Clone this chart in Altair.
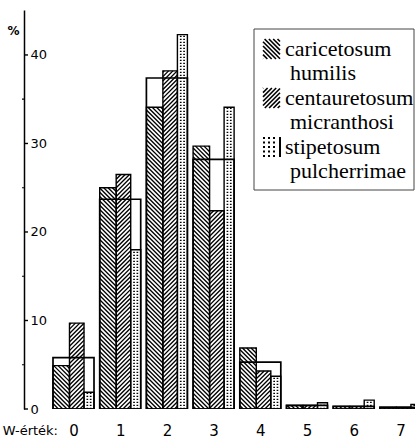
import math
import altair as alt
import pandas as pd

# ---------------- data ----------------
w_values = [0, 1, 2, 3, 4, 5, 6, 7]
caricetosum = [4.9, 25.0, 34.1, 29.7, 6.9, 0.4, 0.3, 0.2]
centauretosum = [9.7, 26.5, 38.2, 22.4, 4.3, 0.4, 0.3, 0.2]
stipetosum = [1.9, 18.0, 42.3, 34.1, 3.7, 0.7, 1.0, 0.5]
osszes = [5.8, 23.7, 37.4, 28.2, 5.3, 0.4, 0.3, 0.2]
legend_lines = [["caricetosum", "humilis"],
                ["centauretosum", "micranthosi"],
                ["stipetosum", "pulcherrimae"]]
y_ticks = [0, 10, 20, 30, 40]
y_minor = [5, 15, 25, 35]
x_title = "W-érték:"
y_title = "%"

# ---------------- layout / style constants ----------------
LEFT, TOP = 24, 10
W, H = 391, 399
PX_PER_W = 46.7
X_MIN = -1.06
X_MAX = X_MIN + W / PX_PER_W
Y_MAX = 45.08
SY = H / Y_MAX
SLOTS = [(-0.439, -0.086), (-0.086, 0.225), (0.225, 0.439)]
GROUP = (-0.439, 0.439)
PERIOD = 4.3
NUM_FONT = "DejaVu Sans"
SERIF = "Liberation Serif"


def px2x(px):
    return X_MIN + (px - LEFT) / PX_PER_W


def px2y(py):
    return (TOP + H - py) / SY


def hatch(x0, x1, y0, y1, kind):
    X0, X1 = (x0 - X_MIN) * PX_PER_W, (x1 - X_MIN) * PX_PER_W
    Y0, Y1 = y0 * SY, y1 * SY
    out = []
    if kind == "back":  # "\"  : X + Y = c
        for k in range(math.ceil((X0 + Y0) / PERIOD), math.floor((X1 + Y1) / PERIOD) + 1):
            c = k * PERIOD
            xa, xb = max(X0, c - Y1), min(X1, c - Y0)
            if xb - xa > 0.05:
                out.append((xa, c - xa, xb, c - xb))
    else:  # "/" : Y - X = c
        for k in range(math.ceil((Y0 - X1) / PERIOD), math.floor((Y1 - X0) / PERIOD) + 1):
            c = k * PERIOD
            xa, xb = max(X0, Y0 - c), min(X1, Y1 - c)
            if xb - xa > 0.05:
                out.append((xa, xa + c, xb, xb + c))
    return [dict(x=X_MIN + a / PX_PER_W, y=b / SY, x2=X_MIN + c2 / PX_PER_W, y2=d / SY)
            for a, b, c2, d in out]


# ---------------- tables built from the arrays ----------------
series = [caricetosum, centauretosum, stipetosum]
bar_rows, hatch_rows, dot_rows, box_rows = [], [], [], []
for i, w in enumerate(w_values):
    for s, vals in enumerate(series):
        x0, x1 = w + SLOTS[s][0], w + SLOTS[s][1]
        bar_rows.append(dict(x=x0, x2=x1, y=0, y2=vals[i], s=s))
        if s == 0:
            hatch_rows += hatch(x0, x1, 0, vals[i], "back")
        elif s == 1:
            hatch_rows += hatch(x0, x1, 0, vals[i], "fwd")
        else:
            for f in (1 / 3, 2 / 3):
                xx = x0 + (x1 - x0) * f
                dot_rows.append(dict(x=xx, y=0, y2=vals[i]))
    box_rows.append(dict(x=w + GROUP[0], x2=w + GROUP[1], y=0, y2=osszes[i]))

bars_df = pd.DataFrame(bar_rows)
hatch_df = pd.DataFrame(hatch_rows)
dots_df = pd.DataFrame(dot_rows)
box_df = pd.DataFrame(box_rows)

# legend
LEG_BASE = [56, 80, 105, 129, 154, 178]
leg_text = []
for j, (l1, l2) in enumerate(legend_lines):
    leg_text.append(dict(t=l1, x=px2x(285), y=px2y(LEG_BASE[2 * j])))
    leg_text.append(dict(t=l2, x=px2x(290), y=px2y(LEG_BASE[2 * j + 1])))
leg_text_df = pd.DataFrame(leg_text)
leg_box_df = pd.DataFrame([dict(x=px2x(254), x2=px2x(414), y=px2y(190), y2=px2y(29))])
sw = []
for j, kind in enumerate(["back", "fwd"]):
    b = LEG_BASE[2 * j]
    sw += hatch(px2x(263), px2x(280), px2y(b + 3), px2y(b - 17), kind)
sw_df = pd.DataFrame(sw)
b = LEG_BASE[4]
sdots_df = pd.DataFrame([dict(x=px2x(p), y=px2y(b + 3), y2=px2y(b - 17)) for p in (264, 269, 274)])
sline_df = pd.DataFrame([dict(x=px2x(280), y=px2y(b + 3), y2=px2y(b - 17))])

ticks_df = pd.DataFrame({"v": y_ticks})
minor_df = pd.DataFrame({"v": y_minor})
title_df = pd.DataFrame({"t": [x_title]})

# ---------------- scales / axes ----------------
xs = alt.Scale(domain=[X_MIN, X_MAX], nice=False, zero=False)
ys = alt.Scale(domain=[0, Y_MAX], nice=False, zero=False)

x_axis = alt.Axis(values=w_values, format="d", title=None, domain=False, ticks=False,
                  tickSize=0, grid=False, labelFontSize=15, labelFont=NUM_FONT,
                  labelColor="black", labelPadding=26, labelBaseline="alphabetic",
                  labelFlush=False, labelOverlap=False)
y_axis = alt.Axis(values=y_ticks, format="d", title=y_title, titleAngle=0, titleX=-11,
                  titleY=20, titleAlign="center", titleBaseline="middle", titleFontSize=12,
                  titleFont=NUM_FONT, titleFontWeight="bold", titleColor="black",
                  domain=True, domainColor="black", domainWidth=1.5, ticks=False, tickSize=0,
                  grid=False, labelAlign="left", labelPadding=-6, labelBaseline="middle",
                  labelFontSize=13, labelFont=NUM_FONT, labelColor="black", labelFlush=False)


def X(f="x"):
    return alt.X(f + ":Q", scale=xs, axis=x_axis)


def Y(f="y"):
    return alt.Y(f + ":Q", scale=ys, axis=y_axis)


bars_fill = alt.Chart(bars_df).mark_rect(fill="white", clip=True).encode(
    x=X("x"), x2="x2", y=Y("y"), y2="y2")

hatch_layer = alt.Chart(hatch_df).mark_rule(color="black", strokeWidth=1.35, clip=True).encode(
    x=X(), y=Y(), x2="x2", y2="y2")

dots_layer = alt.Chart(dots_df).mark_rule(color="black", strokeWidth=1.7, strokeDash=[1.3, 1.7],
                                          clip=True).encode(x=X(), y=Y(), y2="y2")

bars_outline = alt.Chart(bars_df).mark_rect(filled=False, stroke="black", strokeWidth=1.4,
                                            clip=True).encode(x=X(), x2="x2", y=Y(), y2="y2")

box_layer = alt.Chart(box_df).mark_rect(filled=False, stroke="black", strokeWidth=1.7,
                                        clip=True).encode(x=X(), x2="x2", y=Y(), y2="y2")

tick_layer = alt.Chart(ticks_df).mark_rule(color="black", strokeWidth=1.4).encode(
    y=Y("v"), x=alt.value(0), x2=alt.value(4))
minor_layer = alt.Chart(minor_df).mark_rule(color="black", strokeWidth=1.2).encode(
    y=Y("v"), x=alt.value(-2), x2=alt.value(0))

xtitle_layer = alt.Chart(title_df).mark_text(align="right", baseline="alphabetic", fontSize=13,
                                             font=NUM_FONT, color="black").encode(
    text="t:N", x=alt.value(34), y=alt.value(425))

leg_box = alt.Chart(leg_box_df).mark_rect(fill="white", stroke="#444", strokeWidth=1).encode(
    x=X(), x2="x2", y=Y(), y2="y2")
leg_sw = alt.Chart(sw_df).mark_rule(color="black", strokeWidth=1.6).encode(
    x=X(), y=Y(), x2="x2", y2="y2")
leg_dots = alt.Chart(sdots_df).mark_rule(color="black", strokeWidth=2, strokeDash=[2, 2.5]).encode(
    x=X(), y=Y(), y2="y2")
leg_line = alt.Chart(sline_df).mark_rule(color="black", strokeWidth=2).encode(
    x=X(), y=Y(), y2="y2")
leg_txt = alt.Chart(leg_text_df).mark_text(align="left", baseline="alphabetic", fontSize=22,
                                           font=SERIF, color="black").encode(
    text="t:N", x=X(), y=Y())

chart = alt.layer(
    bars_fill, hatch_layer, dots_layer, bars_outline, box_layer,
    tick_layer, minor_layer, xtitle_layer,
    leg_box, leg_sw, leg_dots, leg_line, leg_txt,
).properties(
    width=W, height=H,
    autosize=alt.AutoSizeParams(type="none"),
    padding={"left": LEFT, "top": TOP, "right": 0, "bottom": 440 - TOP - H},
    background="white",
).configure_view(stroke=None)

chart.save("out.html", embed_options={"renderer": "svg", "actions": False})
